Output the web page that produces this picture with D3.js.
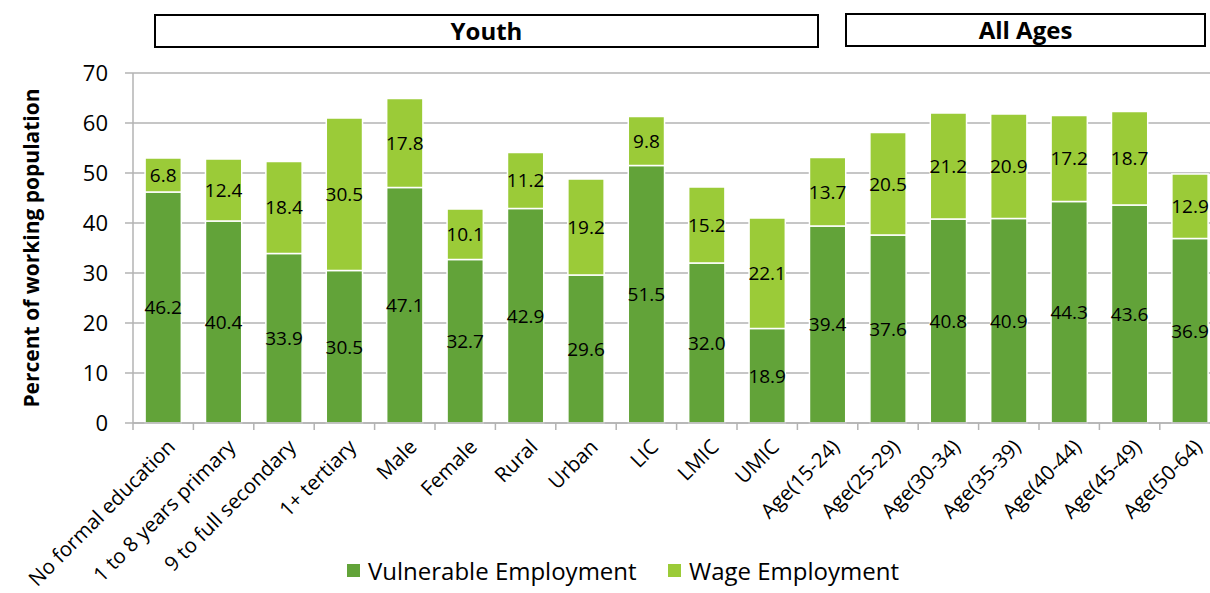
<!DOCTYPE html>
<html>
<head>
<meta charset="utf-8">
<script src="https://cdn.jsdelivr.net/npm/d3@7"></script>
<style>
body { margin: 0; background: #fff; }
text { font-family: "Open Sans", "Noto Sans", sans-serif; fill: #000; }
</style>
</head>
<body>
<script>
var categories = ["No formal education", "1 to 8 years primary", "9 to full secondary", "1+ tertiary",
  "Male", "Female", "Rural", "Urban", "LIC", "LMIC", "UMIC",
  "Age(15-24)", "Age(25-29)", "Age(30-34)", "Age(35-39)", "Age(40-44)", "Age(45-49)", "Age(50-64)"];
var vulnerable = [46.2, 40.4, 33.9, 30.5, 47.1, 32.7, 42.9, 29.6, 51.5, 32.0, 18.9, 39.4, 37.6, 40.8, 40.9, 44.3, 43.6, 36.9];
var wage = [6.8, 12.4, 18.4, 30.5, 17.8, 10.1, 11.2, 19.2, 9.8, 15.2, 22.1, 13.7, 20.5, 21.2, 20.9, 17.2, 18.7, 12.9];
var yTicks = [0, 10, 20, 30, 40, 50, 60, 70];
var seriesNames = ["Vulnerable Employment", "Wage Employment"];
var colors = ["#62a339", "#9bcb38"];

var width = 1210, height = 593;
var margin = {top: 73, left: 133, bottom: 170};
var plotRight = 133 + 18 * 60.4;

var svg = d3.select("body").append("svg")
  .attr("width", width)
  .attr("height", height);

var x = d3.scaleBand()
  .domain(categories)
  .range([margin.left, plotRight])
  .paddingInner(0.4)
  .paddingOuter(0.2);

var y = d3.scaleLinear()
  .domain([0, 70])
  .range([height - margin.bottom, margin.top]);

// gridlines
svg.append("g")
  .selectAll("line")
  .data(yTicks)
  .enter().append("line")
  .attr("x1", margin.left - 8)
  .attr("x2", width)
  .attr("y1", function(d) { return y(d); })
  .attr("y2", function(d) { return y(d); })
  .attr("stroke", "#b3b3b3")
  .attr("stroke-width", 1.5);

// y axis line
svg.append("line")
  .attr("x1", margin.left).attr("x2", margin.left)
  .attr("y1", y(70)).attr("y2", y(0))
  .attr("stroke", "#b3b3b3").attr("stroke-width", 1.5);

svg.append("g")
  .selectAll("text")
  .data(yTicks)
  .enter().append("text")
  .attr("x", margin.left - 25)
  .attr("y", function(d) { return y(d); })
  .attr("dy", "0.36em")
  .attr("text-anchor", "end")
  .style("font-size", "22px")
  .text(function(d) { return d; });

// x axis ticks at band boundaries
var step = x.step();
var bounds = d3.range(categories.length + 1).map(function(i) { return margin.left + i * step; });
svg.append("g")
  .selectAll("line")
  .data(bounds)
  .enter().append("line")
  .attr("x1", function(d) { return d; })
  .attr("x2", function(d) { return d; })
  .attr("y1", y(0))
  .attr("y2", y(0) + 7)
  .attr("stroke", "#b3b3b3")
  .attr("stroke-width", 1.5);

var stacked = categories.map(function(c, i) {
  return {cat: c, v: vulnerable[i], w: wage[i]};
});

// bars
var g = svg.append("g");
g.selectAll("rect.vul")
  .data(stacked)
  .enter().append("rect")
  .attr("class", "vul")
  .attr("x", function(d) { return x(d.cat); })
  .attr("width", x.bandwidth())
  .attr("y", function(d) { return y(d.v); })
  .attr("height", function(d) { return y(0) - y(d.v); })
  .attr("fill", colors[0])
  .attr("stroke", "#fff")
  .attr("stroke-width", 1.5);

g.selectAll("rect.wage")
  .data(stacked)
  .enter().append("rect")
  .attr("class", "wage")
  .attr("x", function(d) { return x(d.cat); })
  .attr("width", x.bandwidth())
  .attr("y", function(d) { return y(d.v + d.w); })
  .attr("height", function(d) { return y(d.v) - y(d.v + d.w); })
  .attr("fill", colors[1])
  .attr("stroke", "#fff")
  .attr("stroke-width", 1.5);

// x axis line over bars
svg.append("line")
  .attr("x1", margin.left).attr("x2", width)
  .attr("y1", y(0)).attr("y2", y(0))
  .attr("stroke", "#b3b3b3").attr("stroke-width", 1.5);

// value labels
g.selectAll("text.vl")
  .data(stacked)
  .enter().append("text")
  .attr("x", function(d) { return x(d.cat) + x.bandwidth() / 2; })
  .attr("y", function(d) { return y(d.v / 2); })
  .attr("dy", "0.36em")
  .attr("text-anchor", "middle")
  .style("font-size", "19px")
  .text(function(d) { return d.v.toFixed(1); });

g.selectAll("text.wl")
  .data(stacked)
  .enter().append("text")
  .attr("x", function(d) { return x(d.cat) + x.bandwidth() / 2; })
  .attr("y", function(d) { return y(d.v + d.w / 2); })
  .attr("dy", "0.36em")
  .attr("text-anchor", "middle")
  .style("font-size", "19px")
  .text(function(d) { return d.w.toFixed(1); });

// category labels
svg.append("g")
  .selectAll("text")
  .data(categories)
  .enter().append("text")
  .attr("transform", function(d) {
    return "translate(" + (x(d) + x.bandwidth() / 2 + 8) + "," + (y(0) + 20) + ") rotate(-45)";
  })
  .attr("text-anchor", "end")
  .attr("dy", "0.36em")
  .style("font-size", "20.5px")
  .text(function(d) { return d; });

// y title
svg.append("text")
  .attr("transform", "translate(39," + ((y(0) + y(70)) / 2) + ") rotate(-90)")
  .attr("text-anchor", "middle")
  .style("font-size", "21px")
  .style("font-weight", "bold")
  .text("Percent of working population");

// group boxes
var groups = [
  {label: "Youth", x0: 155, x1: 818, y0: 15, y1: 47},
  {label: "All Ages", x0: 846, x1: 1205, y0: 14, y1: 46}
];
var gb = svg.append("g").selectAll("g").data(groups).enter().append("g");
gb.append("rect")
  .attr("x", function(d) { return d.x0; })
  .attr("y", function(d) { return d.y0; })
  .attr("width", function(d) { return d.x1 - d.x0; })
  .attr("height", function(d) { return d.y1 - d.y0; })
  .attr("fill", "#fff")
  .attr("stroke", "#000")
  .attr("stroke-width", 2);
gb.append("text")
  .attr("x", function(d) { return (d.x0 + d.x1) / 2; })
  .attr("y", function(d) { return (d.y0 + d.y1) / 2; })
  .attr("dy", "0.36em")
  .attr("text-anchor", "middle")
  .style("font-size", "24px")
  .style("font-weight", "bold")
  .text(function(d) { return d.label; });

// legend
var legendX = [347, 668];
var lg = svg.append("g").selectAll("g").data(seriesNames).enter().append("g")
  .attr("transform", function(d, i) { return "translate(" + legendX[i] + ",564)"; });
lg.append("rect")
  .attr("width", 13).attr("height", 13)
  .attr("fill", function(d, i) { return colors[i]; });
lg.append("text")
  .attr("x", 21)
  .attr("y", 7)
  .attr("dy", "0.36em")
  .style("font-size", "24px")
  .text(function(d) { return d; });
</script>
</body>
</html>
